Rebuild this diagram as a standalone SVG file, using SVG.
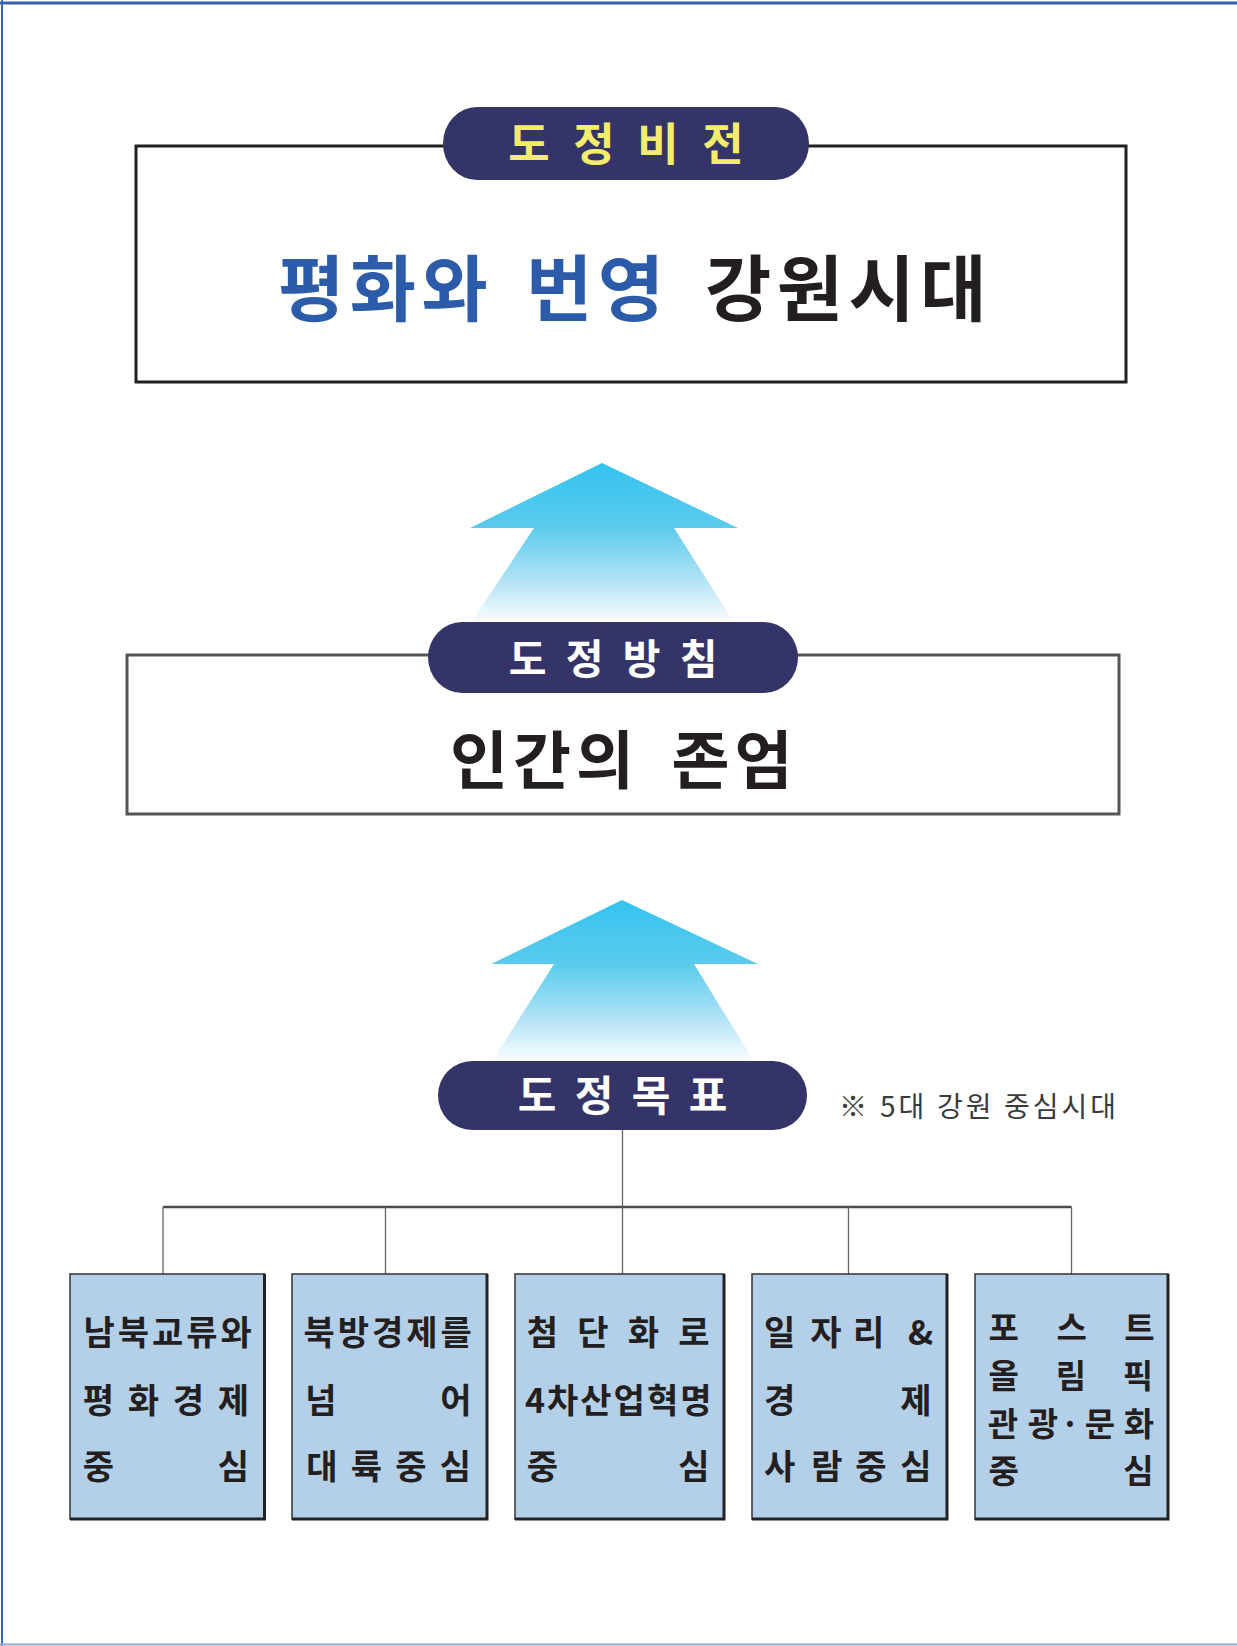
<svg xmlns="http://www.w3.org/2000/svg" width="1237" height="1646" viewBox="0 0 1237 1646">
<style>
.k{font-family:"Noto Sans CJK KR","Noto Sans",sans-serif;font-weight:700}
.pill{fill:#343468}
.bx{fill:#b4cfe8;stroke:#333;stroke-width:1.5}
.sh{fill:none;stroke:#222;stroke-width:3}
.bt{font-size:34px;fill:#231f20;text-anchor:middle}
.bts{font-size:34px;fill:#231f20;letter-spacing:3px}
.b5{font-size:33px;fill:#231f20;text-anchor:middle}
.pt{text-anchor:middle}
.conn{fill:none;stroke:#666;stroke-width:1.3}
</style>
<defs>
<linearGradient id="ag" x1="0" y1="0" x2="0" y2="1">
<stop offset="0" stop-color="#33c3f0"/>
<stop offset="0.4" stop-color="#5ccbed"/>
<stop offset="0.75" stop-color="#b8e4f6"/>
<stop offset="1" stop-color="#ffffff"/>
</linearGradient>
</defs>
<rect width="1237" height="1646" fill="#fff"/>
<g id="frame">
<path d="M0 3H1237" stroke="#3462ad" stroke-width="3" fill="none"/>
<path d="M2 0V1646" stroke="#3a66b4" stroke-width="2" fill="none"/>
<path d="M0 1644.5H1237" stroke="#90a7d6" stroke-width="2" fill="none"/>
</g>
<g id="vision">
<rect x="136" y="146" width="990" height="236" fill="#fff" stroke="#231f20" stroke-width="3"/>
<rect class="pill" x="443" y="107" width="366" height="73" rx="34" ry="36.5"/>
<text class="k pt" font-size="45" fill="#f3ec6c" y="161" x="529 561.5 594 626 658 690.5 723">도 정 비 전</text>
<text class="k" font-size="72" y="315" letter-spacing="5.5"><tspan x="278" fill="#2b5ba9">평화와</tspan> <tspan x="526" fill="#2b5ba9">번영</tspan> <tspan x="705" fill="#231f20">강원시대</tspan></text>
</g>
<g id="arrow1">
<polygon points="602,463 738,528 674,528 735,624 470,624 534,528 470,528" fill="url(#ag)"/>
</g>
<g id="policy">
<rect x="127" y="655" width="992" height="159" fill="#fff" stroke="#555" stroke-width="3"/>
<rect class="pill" x="428" y="622" width="370" height="71" rx="34" ry="35.5"/>
<text class="k pt" font-size="41" fill="#fff" y="674" x="527.5 556 584.5 613 641.5 670 698.5">도 정 방 침</text>
<text class="k" font-size="63" y="783" fill="#231f20" letter-spacing="5"><tspan x="450">인간의</tspan> <tspan x="671.5">존엄</tspan></text>
</g>
<g id="arrow2">
<polygon points="622,900 758,964 694,964 755,1063 491,1063 554,964 491,964" fill="url(#ag)"/>
</g>
<g id="goal">
<rect class="pill" x="438" y="1061" width="369" height="69" rx="34" ry="34.5"/>
<text class="k pt" font-size="42" fill="#fff" y="1111" x="537 565.5 594 622.5 651 679.5 708">도 정 목 표</text>
</g>
<g id="note">
<text font-family="'Noto Sans CJK KR','Noto Sans',sans-serif" font-size="28" fill="#3b3b3b" y="1117" letter-spacing="3"><tspan x="839">※</tspan> <tspan x="880">5대</tspan> <tspan x="937">강원</tspan> <tspan x="1004">중심시대</tspan></text>
</g>
<g id="connectors">
<path class="conn" d="M622.5 1130V1207" stroke-width="1.5"/>
<path d="M163 1207H1071.5" fill="none" stroke="#4a4a4a" stroke-width="2.5"/>
<path class="conn" d="M163 1207V1274M385.5 1207V1274M622.5 1207V1274M848.5 1207V1274M1071.5 1207V1274"/>
</g>
<g id="goal1">
<rect class="bx" x="70" y="1274" width="194.5" height="245"/>
<path class="sh" d="M264.5 1274V1520.5M70 1519H266"/>
<text class="k bts" x="83.5" y="1345">남북교류와</text>
<text class="k bt" y="1412.5" x="98.5 121 143.5 166 188.5 211 233.5">평 화 경 제</text>
<text class="k bt" y="1479" x="98.5 166 233.5">중 심</text>
</g>
<g id="goal2">
<rect class="bx" x="292" y="1274" width="195" height="245"/>
<path class="sh" d="M487 1274V1520.5M292 1519H488.5"/>
<text class="k bts" x="303.5" y="1345">북방경제를</text>
<text class="k bt" y="1412.5" x="321 388.5 456">넘 어</text>
<text class="k bt" y="1479" x="322 344 366.5 389 411 433 455.5">대 륙 중 심</text>
</g>
<g id="goal3">
<rect class="bx" x="515" y="1274" width="209" height="245"/>
<path class="sh" d="M724 1274V1520.5M515 1519H725.5"/>
<text class="k bt" y="1345" x="542.5 568 593 618 643.5 669 694">첨 단 화 로</text>
<text class="k bts" x="525" y="1412.5" style="letter-spacing:2px">4차산업혁명</text>
<text class="k bt" y="1479" x="542.5 618 694">중 심</text>
</g>
<g id="goal4">
<rect class="bx" x="752" y="1274" width="195" height="245"/>
<path class="sh" d="M947 1274V1520.5M752 1519H948.5"/>
<text class="k bt" y="1345" x="779.7 803 826 847 868.6 894 920.6">일 자 리 &amp;</text>
<text class="k bt" y="1412.5" x="779.7 848 916">경 제</text>
<text class="k bt" y="1479" x="779.7 803 827 849 870.8 893 916">사 람 중 심</text>
</g>
<g id="goal5">
<rect class="bx" x="975" y="1274" width="193" height="245"/>
<path class="sh" d="M1168 1274V1520.5M975 1519H1169.5"/>
<text class="k b5" y="1340" x="1003.8 1037 1071.7 1105 1139.5">포 스 트</text>
<text class="k b5" y="1388" x="1003.8 1037 1071 1105 1138">올 림 픽</text>
<text class="k b5" y="1435.5" x="1003 1043 1070 1100 1139">관광·문화</text>
<text class="k b5" y="1483" x="1003.8 1071 1138.5">중 심</text>
</g>
</svg>
